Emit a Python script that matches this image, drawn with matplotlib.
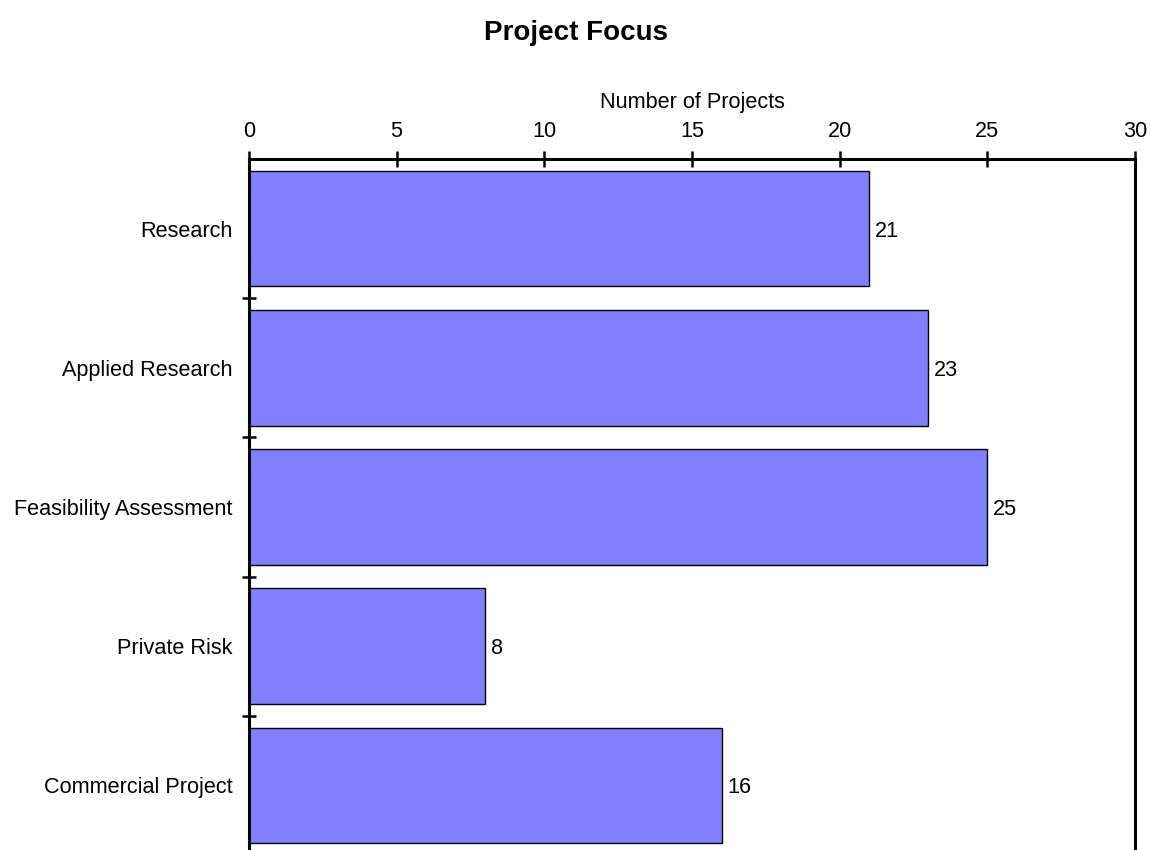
import matplotlib.pyplot as plt
import numpy as np

plt.rcParams['font.family'] = ['Liberation Sans', 'DejaVu Sans']

categories = ['Research', 'Applied Research', 'Feasibility Assessment',
              'Private Risk', 'Commercial Project']
counts = [21, 23, 25, 8, 16]

fig = plt.figure(figsize=(11.51, 8.5), dpi=100)
ax = fig.add_axes([0.2163, -0.0059, 0.7698, 0.8188])

y = np.arange(len(categories))
ax.barh(y, counts, height=0.83, color='#8080FF', edgecolor='black', linewidth=1.0)

for yi, c in zip(y, counts):
    ax.text(c + 0.2, yi, str(c), va='center_baseline', ha='left', fontsize=15.6)

ax.set_xlim(0, 30)
ax.set_ylim(len(categories) - 0.5, -0.5)

ax.xaxis.set_ticks_position('top')
ax.xaxis.set_label_position('top')
ax.set_xticks(range(0, 31, 5))
ax.tick_params(axis='x', direction='inout', length=11, width=1.8, labelsize=15.6, pad=7)
ax.set_xlabel('Number of Projects', fontsize=15.6, labelpad=9)

ax.set_yticks(y)
ax.set_yticklabels(categories, fontsize=15.6)
ax.set_yticks(np.arange(0.5, len(categories) - 0.5, 1), minor=True)
ax.tick_params(axis='y', which='major', length=0, pad=12)
ax.tick_params(axis='y', which='minor', direction='inout', length=10, width=1.8)

for s in ['top', 'left', 'right']:
    ax.spines[s].set_linewidth(2.2)
ax.spines['bottom'].set_visible(False)

fig.text(0.5, 1 - 40 / 850, 'Project Focus', ha='center', va='baseline',
         fontsize=20, fontweight='bold')

fig.savefig('out.png', dpi=100)
